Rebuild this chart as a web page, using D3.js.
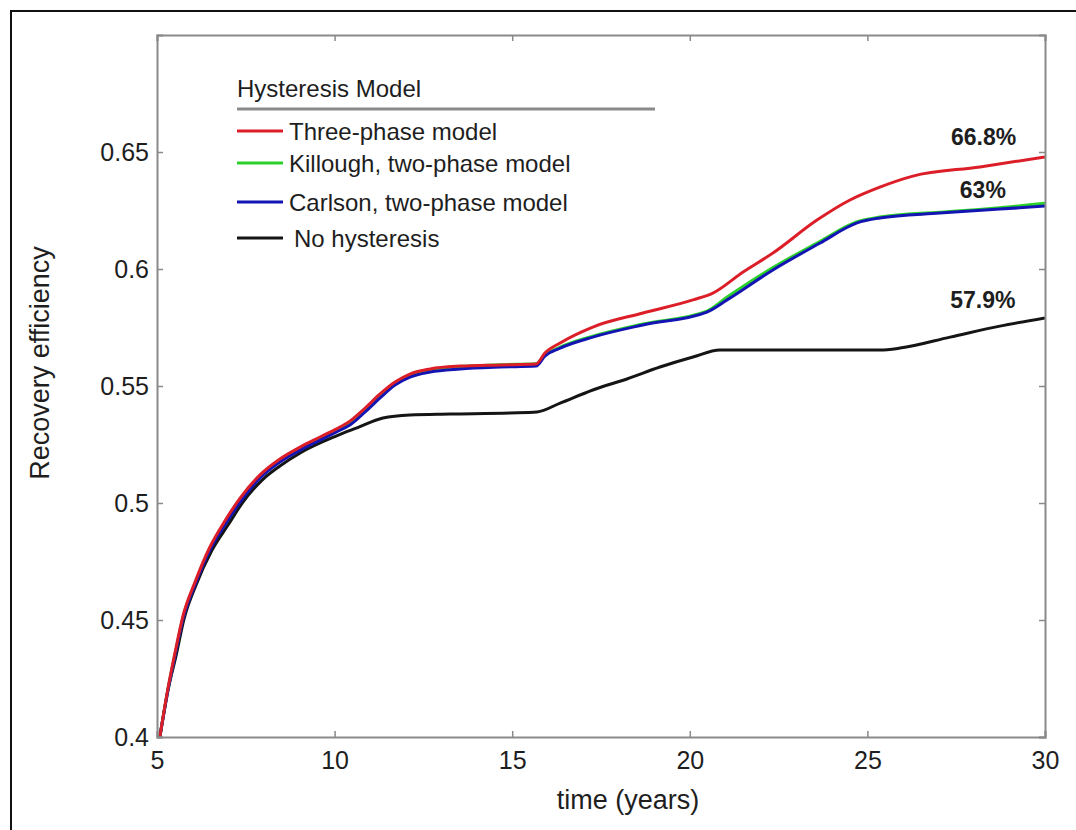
<!DOCTYPE html>
<html>
<head>
<meta charset="utf-8">
<script src="https://cdn.jsdelivr.net/npm/d3@7"></script>
<style>
  html, body { margin: 0; padding: 0; background: #fff; }
  svg { display: block; font-family: "Liberation Sans", Arial, sans-serif; }
</style>
</head>
<body>
<svg id="chart" width="1076" height="830"></svg>
<script>
// ---- data ----
const xTicks = [5, 10, 15, 20, 25, 30];
const yTicks = [0.4, 0.45, 0.5, 0.55, 0.6, 0.65];
const yTickLabels = ["0.4", "0.45", "0.5", "0.55", "0.6", "0.65"];

const seriesNames = ["Three-phase model", "Killough, two-phase model", "Carlson, two-phase model", "No hysteresis"];

const noHystT = [5.08, 5.31, 5.54, 5.76, 6.10, 6.55, 7.00, 7.42, 7.96, 8.46, 9.03, 10.04, 10.63, 11.36, 12.12, 13.25, 14.94, 15.70, 16.35, 17.27, 18.23, 19.16, 20.09, 20.85, 25.35, 25.92, 27.33, 28.73, 30.0];
const noHystV = [0.4000, 0.4201, 0.4350, 0.4504, 0.4650, 0.4799, 0.4906, 0.5004, 0.5098, 0.5158, 0.5214, 0.5286, 0.5321, 0.5363, 0.5376, 0.5380, 0.5385, 0.5389, 0.5427, 0.5483, 0.5530, 0.5581, 0.5624, 0.5654, 0.5654, 0.5662, 0.5709, 0.5756, 0.5791];

const carlsonT = [5.08, 5.31, 5.51, 5.73, 6.07, 6.49, 6.91, 7.34, 7.90, 8.46, 9.03, 9.59, 10.04, 10.43, 10.86, 11.28, 11.70, 12.12, 12.69, 13.53, 14.66, 15.67, 15.92, 16.35, 17.27, 18.68, 20.48, 21.05, 22.34, 23.67, 24.71, 25.35, 27.04, 28.73, 30.0];
const carlsonV = [0.4000, 0.4201, 0.4350, 0.4504, 0.4650, 0.4799, 0.4906, 0.5004, 0.5107, 0.5175, 0.5226, 0.5269, 0.5303, 0.5333, 0.5389, 0.5449, 0.5504, 0.5538, 0.5560, 0.5573, 0.5581, 0.5585, 0.5628, 0.5662, 0.5709, 0.5761, 0.5816, 0.5868, 0.5996, 0.6111, 0.6197, 0.6218, 0.6239, 0.6256, 0.6269];

const killoughT = [5.08, 5.31, 5.51, 5.73, 6.07, 6.49, 6.91, 7.34, 7.90, 8.46, 9.03, 9.59, 10.04, 10.43, 10.86, 11.28, 11.70, 12.12, 12.69, 13.53, 14.66, 15.67, 15.92, 16.35, 17.27, 18.68, 20.48, 21.05, 22.34, 23.67, 24.71, 25.35, 27.04, 28.73, 30.0];
const killoughV = [0.4000, 0.4205, 0.4355, 0.4509, 0.4655, 0.4804, 0.4911, 0.5009, 0.5112, 0.5180, 0.5231, 0.5274, 0.5308, 0.5338, 0.5395, 0.5455, 0.5510, 0.5547, 0.5570, 0.5583, 0.5591, 0.5595, 0.5632, 0.5666, 0.5713, 0.5765, 0.5820, 0.5880, 0.6006, 0.6118, 0.6202, 0.6222, 0.6243, 0.6262, 0.6281];

const threePhaseT = [5.08, 5.31, 5.51, 5.73, 6.07, 6.49, 6.91, 7.34, 7.90, 8.46, 9.03, 9.59, 10.04, 10.43, 10.86, 11.28, 11.70, 12.12, 12.69, 13.53, 14.66, 15.67, 15.92, 16.35, 17.27, 18.68, 20.09, 20.65, 21.50, 22.34, 23.58, 24.51, 25.35, 26.28, 28.17, 30.0];
const threePhaseV = [0.4000, 0.4209, 0.4363, 0.4517, 0.4662, 0.4812, 0.4923, 0.5021, 0.5120, 0.5188, 0.5239, 0.5282, 0.5316, 0.5350, 0.5406, 0.5466, 0.5517, 0.5551, 0.5573, 0.5585, 0.5590, 0.5594, 0.5641, 0.5684, 0.5752, 0.5812, 0.5868, 0.5897, 0.5987, 0.6068, 0.6209, 0.6295, 0.6350, 0.6397, 0.6436, 0.6479];

const annotations = ["66.8%", "63%", "57.9%"];
const annotationT = [28.27, 28.25, 28.25];
const annotationV = [0.6530, 0.6303, 0.5833];

// ---- layout ----
const svg = d3.select("#chart");
const L = 157, R = 1045, T = 35, B = 737;
const x = d3.scaleLinear().domain([5, 30]).range([L, R]);
const y = d3.scaleLinear().domain([0.4, 0.7]).range([B, T]);

const axisColor = "#8a8a8a";
const textColor = "#1e1e1e";

// outer frame
svg.append("rect").attr("x", 11).attr("y", 11).attr("width", 1100).attr("height", 1000)
  .attr("fill", "none").attr("stroke", "#111").attr("stroke-width", 2);

// lines
const series = [
  { name: seriesNames[3], t: noHystT, v: noHystV, color: "#151515" },
  { name: seriesNames[1], t: killoughT, v: killoughV, color: "#2ad12a" },
  { name: seriesNames[2], t: carlsonT, v: carlsonV, color: "#1414b4" },
  { name: seriesNames[0], t: threePhaseT, v: threePhaseV, color: "#dc1e28" }
];
const line = d3.line().x(d => x(d[0])).y(d => y(d[1])).curve(d3.curveMonotoneX);
svg.append("defs").append("clipPath").attr("id", "clip")
  .append("rect").attr("x", L).attr("y", T).attr("width", R - L).attr("height", B - T);
const gLines = svg.append("g").attr("clip-path", "url(#clip)");
series.forEach(s => {
  gLines.append("path")
    .datum(s.t.map((t, i) => [t, s.v[i]]))
    .attr("fill", "none").attr("stroke", s.color).attr("stroke-width", 3)
    .attr("stroke-linejoin", "round").attr("d", line);
});

// axes (MATLAB style, ticks inward, box)
const gx = svg.append("g").attr("transform", `translate(0,${B})`)
  .call(d3.axisBottom(x).tickValues(xTicks).tickSize(-6).tickPadding(14).tickFormat(d3.format("d")));
const gy = svg.append("g").attr("transform", `translate(${L},0)`)
  .call(d3.axisLeft(y).tickValues(yTicks).tickSize(-6).tickPadding(8).tickFormat((d, i) => yTickLabels[i]));
const gr = svg.append("g").attr("transform", `translate(${R},0)`)
  .call(d3.axisRight(y).tickValues(yTicks).tickSize(-6).tickFormat(""));
const gt = svg.append("g").attr("transform", `translate(0,${T})`)
  .call(d3.axisTop(x).tickValues(xTicks).tickSize(-6).tickFormat(""));
[gx, gy, gr, gt].forEach(g => {
  g.select(".domain").attr("stroke", axisColor).attr("stroke-width", 2);
  g.selectAll(".tick line").attr("stroke", axisColor).attr("stroke-width", 1.5);
  g.selectAll(".tick text").attr("fill", textColor).attr("font-size", 25)
    .attr("font-family", "'Liberation Sans', Arial, sans-serif");
});

// axis labels
svg.append("text").attr("x", 628).attr("y", 809).attr("text-anchor", "middle")
  .attr("font-size", 27).attr("fill", textColor).text("time (years)");
svg.append("text").attr("transform", "translate(49,363) rotate(-90)").attr("text-anchor", "middle")
  .attr("font-size", 27).attr("fill", textColor).text("Recovery efficiency");

// legend
const legend = svg.append("g");
legend.append("text").attr("x", 237).attr("y", 97).attr("font-size", 24).attr("fill", textColor).text("Hysteresis Model");
legend.append("line").attr("x1", 237).attr("x2", 655).attr("y1", 109).attr("y2", 109)
  .attr("stroke", "#8a8a8a").attr("stroke-width", 3);
const legendItems = [
  { s: series[3], ly: 131, tx: 289 },
  { s: series[1], ly: 163, tx: 289 },
  { s: series[2], ly: 202, tx: 289 },
  { s: series[0], ly: 238, tx: 294 }
];
legendItems.forEach(it => {
  legend.append("line").attr("x1", 237).attr("x2", 283).attr("y1", it.ly).attr("y2", it.ly)
    .attr("stroke", it.s.color).attr("stroke-width", 3);
  legend.append("text").attr("x", it.tx).attr("y", it.ly + 9).attr("font-size", 24)
    .attr("fill", textColor).text(it.s.name);
});

// annotations
annotations.forEach((a, i) => {
  svg.append("text").attr("x", x(annotationT[i])).attr("y", y(annotationV[i]))
    .attr("text-anchor", "middle").attr("font-size", 23).attr("font-weight", "bold")
    .attr("fill", textColor).text(a);
});
</script>
</body>
</html>
